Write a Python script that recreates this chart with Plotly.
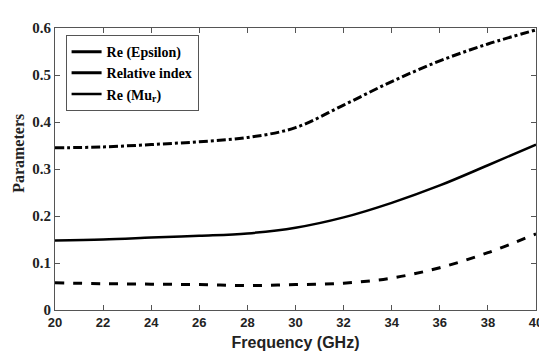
import plotly.graph_objects as go

freq = [20, 22, 24, 26, 28, 30, 32, 34, 36, 38, 40]
re_epsilon = [0.345, 0.347, 0.352, 0.358, 0.367, 0.388, 0.436, 0.486, 0.530, 0.566, 0.596]
rel_index = [0.148, 0.150, 0.154, 0.158, 0.163, 0.175, 0.197, 0.228, 0.265, 0.308, 0.352]
re_mu = [0.058, 0.056, 0.055, 0.054, 0.052, 0.054, 0.057, 0.068, 0.090, 0.122, 0.162]

names = ["<b>Re (Epsilon)</b>", "<b>Relative index</b>", "<b>Re (Mu<sub>r</sub>)</b>"]
legend_widths = [3, 3, 2.5]

SERIF = "Times New Roman, Liberation Serif, DejaVu Serif, serif"
SANS = "Arial, Liberation Sans, sans-serif"

fig = go.Figure()
fig.add_trace(go.Scatter(x=freq, y=re_epsilon, mode="lines", showlegend=False,
                         line=dict(color="black", width=3, dash="dashdot", shape="spline")))
fig.add_trace(go.Scatter(x=freq, y=rel_index, mode="lines", showlegend=False,
                         line=dict(color="black", width=2.5, shape="spline")))
fig.add_trace(go.Scatter(x=freq, y=re_mu, mode="lines", showlegend=False,
                         line=dict(color="black", width=3, dash="dash", shape="spline")))
for n, w in zip(names, legend_widths):
    fig.add_trace(go.Scatter(x=[None], y=[None], mode="lines", name=n,
                             line=dict(color="black", width=w)))

axis_common = dict(showline=True, linecolor="#555555", linewidth=1.2, mirror="ticks",
                   ticks="inside", ticklen=5, tickcolor="#555555", showgrid=False,
                   zeroline=False)

fig.update_layout(
    width=547, height=353,
    margin=dict(l=47, r=12, t=15, b=49),
    paper_bgcolor="white", plot_bgcolor="white",
    font=dict(family=SERIF, size=14, color="black"),
    showlegend=True,
    legend=dict(x=0.022, y=0.975, xanchor="left", yanchor="top",
                bgcolor="white", bordercolor="#555555", borderwidth=1,
                font=dict(family=SERIF, size=14, color="black"),
                tracegroupgap=0, itemwidth=30),
    xaxis=dict(range=[20, 40], dtick=2, tick0=20,
               tickfont=dict(family=SANS, size=13, color="#222222", weight="bold"),
               title=dict(text="<b>Frequency (GHz)</b>", standoff=8,
                          font=dict(family=SANS, size=16, color="#222222")),
               **axis_common),
    yaxis=dict(range=[0, 0.6], dtick=0.1, tick0=0,
               tickfont=dict(family=SERIF, size=15, color="#222222", weight="bold"),
               **axis_common),
    annotations=[dict(text="<b>Parameters</b>", textangle=-90, showarrow=False,
                      xref="paper", yref="paper", x=-0.075, y=0.557,
                      xanchor="center", yanchor="middle",
                      font=dict(family=SERIF, size=16, color="#222222"))],
)

fig.write_html("out.html")
